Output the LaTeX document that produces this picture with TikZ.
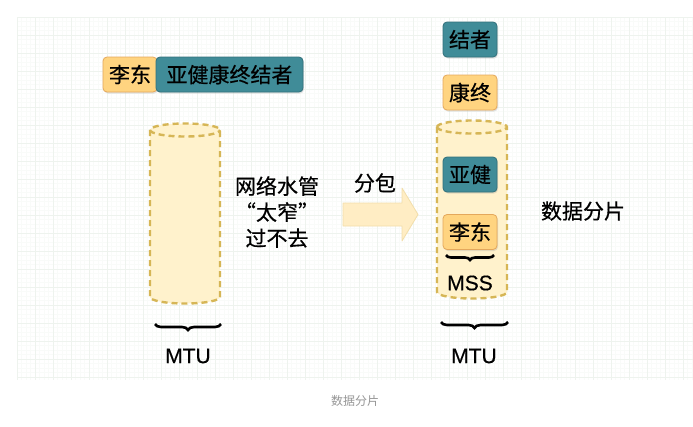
\documentclass[tikz,border=0pt]{standalone}
\usepackage{fontspec}
\setmainfont{Noto Sans CJK SC}[FakeBold=0.5]
\newfontfamily\latinfont{Liberation Sans}[FakeBold=0.4]
\newfontfamily\capfont{Noto Sans CJK SC}
\usetikzlibrary{decorations.pathreplacing,shadows}
\definecolor{orfill}{RGB}{255,212,128}
\definecolor{ordraw}{RGB}{228,168,92}
\definecolor{tlfill}{RGB}{64,140,152}
\definecolor{tldraw}{RGB}{50,112,122}
\definecolor{cylfill}{RGB}{255,242,204}
\definecolor{cyldraw}{RGB}{214,182,86}
\definecolor{arrfill}{RGB}{255,237,196}
\definecolor{arrdraw}{RGB}{242,222,170}
\definecolor{gridminor}{RGB}{249,251,249}
\definecolor{gridmajor}{RGB}{238,243,238}
\definecolor{capgray}{RGB}{150,150,150}
\tikzset{
  txt/.style={font=\fontsize{21}{26}\selectfont, text=black, inner sep=0pt, align=center},
  lat/.style={txt, font=\latinfont\fontsize{21}{26}\selectfont},
  box/.style={txt, rounded corners=4pt, minimum height=35pt, minimum width=54pt, line width=0.8pt,
              drop shadow={opacity=0.22, shadow xshift=1pt, shadow yshift=-1.5pt}},
  orbox/.style={box, fill=orfill, draw=ordraw},
  tlbox/.style={box, fill=tlfill, draw=tldraw},
  cyl/.style={fill=cylfill, draw=cyldraw, line width=2.4pt, dash pattern=on 6pt off 4pt},
  bracestyle/.style={draw=black, line width=2.6pt, decorate, decoration={brace, mirror, amplitude=6pt}},
}
\begin{document}
\begin{tikzpicture}[x=1pt,y=-1pt]
\useasboundingbox[fill=white] (0,0) rectangle (693,426);
% grid
\foreach \i in {0,...,150} {\draw[gridminor, line width=0.4pt] ({17+4.5*\i},17) -- ({17+4.5*\i},380);}
\foreach \j in {0,...,80} {\draw[gridminor, line width=0.4pt] (17,{17+4.5*\j}) -- (693,{17+4.5*\j});}
\foreach \i in {0,...,37} {\draw[gridmajor, line width=0.5pt] ({17+18*\i},17) -- ({17+18*\i},380);}
\foreach \j in {0,...,20} {\draw[gridmajor, line width=0.5pt] (17,{17+18*\j}) -- (693,{17+18*\j});}

% left cylinder
\path[cyl] (150,130) -- (150,297) arc[start angle=180,end angle=360,x radius=35pt,y radius=6.5pt]
  -- (220,130) arc[start angle=0,end angle=180,x radius=35pt,y radius=6.5pt] -- cycle;
\draw[cyl, fill=none] (150,130) arc[start angle=180,end angle=360,x radius=35pt,y radius=6.5pt];

% right cylinder
\path[cyl] (437,127) -- (437,292) arc[start angle=180,end angle=360,x radius=35pt,y radius=6.5pt]
  -- (507,127) arc[start angle=0,end angle=180,x radius=35pt,y radius=6.5pt] -- cycle;
\draw[cyl, fill=none] (437,127) arc[start angle=180,end angle=360,x radius=35pt,y radius=6.5pt];

% left boxes
\node[orbox] (ld1) at (130,74.5) {李东};
\node[tlbox, minimum width=147pt] (yj1) at (229.5,74.5) {亚健康终结者};

% right boxes
\node[tlbox] (jz) at (470,39.5) {结者};
\node[orbox] (kz) at (470,92.5) {康终};
\node[tlbox] (yj2) at (470,174.5) {亚健};
\node[orbox] (ld2) at (470,232) {李东};

% texts
\node[txt] (pipe) at (277,212) {网络水管\\“太窄”\\过不去};
\node[txt] (fb) at (375,183) {分包};
\node[txt] (sjfp) at (583,211) {数据分片};
\node[lat] (mss) at (470,283) {MSS};
\node[lat] (mtu1) at (188,356) {MTU};
\node[lat] (mtu2) at (474,356) {MTU};
\node[font=\capfont\fontsize{12}{14}\selectfont, text=capgray, inner sep=0pt] (cap) at (355,401) {数据分片};

% arrow
\draw[fill=arrfill, draw=arrdraw, line width=0.8pt, line join=round]
  (343,203) -- (402,203) -- (402,188) -- (418,214.5) -- (402,241) -- (402,226) -- (343,226) -- cycle;

% braces
\coordinate (b1l) at (155,324);
\coordinate (b1r) at (221,324);
\coordinate (b2l) at (441,322);
\coordinate (b2r) at (508,322);
\coordinate (b3l) at (446,255);
\coordinate (b3r) at (494,255);
\draw[bracestyle] (b1l) -- (b1r);
\draw[bracestyle] (b2l) -- (b2r);
\draw[bracestyle, decoration={brace, mirror, amplitude=5pt}] (b3l) -- (b3r);
\end{tikzpicture}
\end{document}
